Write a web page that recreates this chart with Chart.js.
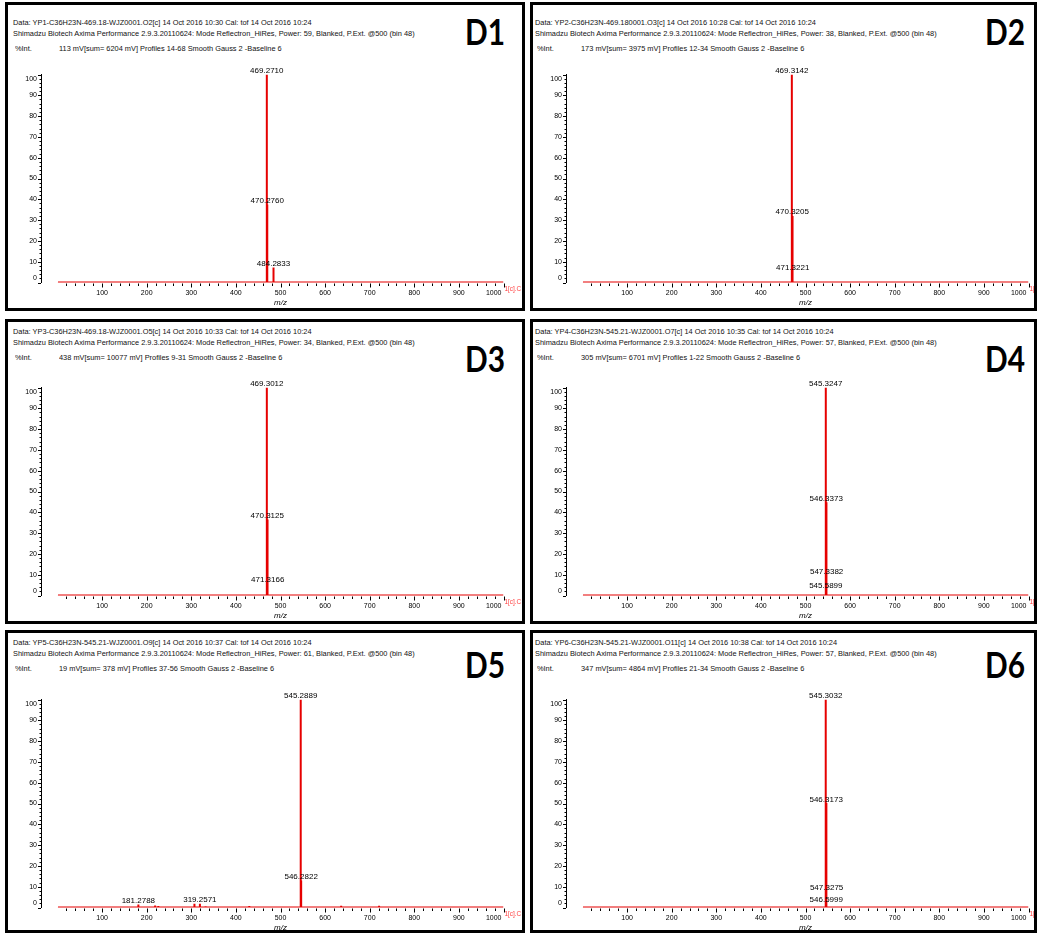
<!DOCTYPE html>
<html>
<head>
<meta charset="utf-8">
<title>MALDI-TOF spectra D1–D6</title>
<script src="https://cdn.jsdelivr.net/npm/chart.js@4.4.1/dist/chart.umd.min.js"></script>
<style>
  html, body { margin: 0; padding: 0; background: #fff; }
  body { position: relative; width: 1039px; height: 936px; overflow: hidden; }
  .panel { position: absolute; box-sizing: border-box; border: 3px solid #000; overflow: hidden; background: #fff; }
  .panel canvas { position: absolute; }
  .hdr { position: absolute; white-space: nowrap; font: 8px/10px "Liberation Sans", Arial, sans-serif; color: #111; transform-origin: 0 50%; }
  .tag { position: absolute; white-space: nowrap; font: 700 37px/37px Lato, "Open Sans", sans-serif; color: #000; transform-origin: 0 0; }
</style>
</head>
<body>
<script>
// ---------------- spectrum data ----------------
const panelTags = ['D1', 'D2', 'D3', 'D4', 'D5', 'D6'];

const dataLines = [
  'Data: YP1-C36H23N-469.18-WJZ0001.O2[c] 14 Oct 2016 10:30 Cal: tof 14 Oct 2016 10:24',
  'Data: YP2-C36H23N-469.180001.O3[c] 14 Oct 2016 10:28 Cal: tof 14 Oct 2016 10:24',
  'Data: YP3-C36H23N-469.18-WJZ0001.O5[c] 14 Oct 2016 10:33 Cal: tof 14 Oct 2016 10:24',
  'Data: YP4-C36H23N-545.21-WJZ0001.O7[c] 14 Oct 2016 10:35 Cal: tof 14 Oct 2016 10:24',
  'Data: YP5-C36H23N-545.21-WJZ0001.O9[c] 14 Oct 2016 10:37 Cal: tof 14 Oct 2016 10:24',
  'Data: YP6-C36H23N-545.21-WJZ0001.O11[c] 14 Oct 2016 10:38 Cal: tof 14 Oct 2016 10:24'
];
const laserPower = [59, 38, 34, 57, 61, 57];
const signalLines = [
  '113 mV[sum= 6204 mV]  Profiles 14-68 Smooth Gauss 2 -Baseline 6',
  '173 mV[sum= 3975 mV]  Profiles 12-34 Smooth Gauss 2 -Baseline 6',
  '438 mV[sum= 10077 mV]  Profiles 9-31 Smooth Gauss 2 -Baseline 6',
  '305 mV[sum= 6701 mV]  Profiles 1-22 Smooth Gauss 2 -Baseline 6',
  '19 mV[sum= 378 mV]  Profiles 37-56 Smooth Gauss 2 -Baseline 6',
  '347 mV[sum= 4864 mV]  Profiles 21-34 Smooth Gauss 2 -Baseline 6'
];

// labelled peaks: m/z and relative intensity (%)
const d1Mz  = [469.2710, 470.2760, 484.2833];
const d1Int = [100, 37.5, 7.2];
const d2Mz  = [469.3142, 470.3205, 471.3221];
const d2Int = [100, 32, 5.5];
const d3Mz  = [469.3012, 470.3125, 471.3166];
const d3Int = [100, 36.5, 6];
const d4Mz  = [545.3247, 546.3373, 547.3382, 545.5899];
const d4Int = [100, 44.8, 9.7, 3.1];
const d5Mz  = [545.2889, 546.2822, 181.2788, 319.2571];
const d5Int = [100, 13, 1.4, 1.8];
const d6Mz  = [545.3032, 546.3173, 547.3275, 546.5999];
const d6Int = [100, 50.2, 7.5, 1.7];

// unlabelled minor peaks
const d5MinorMz  = [218.8, 226.0, 307.0, 332.0, 430.0, 449.0, 636.0, 721.0, 795.0];
const d5MinorInt = [1.0, 0.7, 1.8, 0.6, 0.7, 0.5, 0.8, 0.8, 0.5];

// axes
const MZ_RANGE = [-37, 1000];
const INT_RANGE = [0, 100];
const ACQ_RANGE = [1, 1000];
const xMajorTicks = [100, 200, 300, 400, 500, 600, 700, 800, 900, 1000];
const yMajorTicks = [0, 10, 20, 30, 40, 50, 60, 70, 80, 90, 100];
const X_MINOR_STEP = 20;
const Y_MINOR_STEP = 2;
const PEAK_HALF_WIDTH = 0.1;

const peaks = [
  { mz: d1Mz, int: d1Int, minorMz: [], minorInt: [] },
  { mz: d2Mz, int: d2Int, minorMz: [], minorInt: [] },
  { mz: d3Mz, int: d3Int, minorMz: [], minorInt: [] },
  { mz: d4Mz, int: d4Int, minorMz: [], minorInt: [] },
  { mz: d5Mz, int: d5Int, minorMz: d5MinorMz, minorInt: d5MinorInt },
  { mz: d6Mz, int: d6Int, minorMz: [], minorInt: [] }
];

// ---------------- layout ----------------
const RED = '#e60000';
const TEXT_FONT = '"Liberation Sans", Arial, sans-serif';
const colLeft = [5, 530], colWidth = [520, 507];
const rowTop = [2, 319, 630], rowHeight = [309, 305, 303];
const chartRowOff = [0, 313, 625], chartColOff = [0, 525];
const textRowOff = [0, 309, 620], textColOff = [0, 522];
const tagRowOff = [0, 327, 633], tagColOff = [0, 520];

// stick profile: baseline, then each peak as a narrow spike
function profile(mz, inten) {
  const idx = mz.map((m, i) => i).sort((a, b) => mz[a] - mz[b]);
  const pts = [{ x: ACQ_RANGE[0], y: 0 }];
  idx.forEach(i => {
    pts.push({ x: mz[i] - PEAK_HALF_WIDTH, y: 0 }, { x: mz[i], y: inten[i] }, { x: mz[i] + PEAK_HALF_WIDTH, y: 0 });
  });
  pts.push({ x: ACQ_RANGE[1], y: 0 });
  return pts;
}

// axis ticks, tick labels and peak annotations
const spectrumDecor = {
  id: 'spectrumDecor',
  afterDatasetsDraw(chart, args, opts) {
    const { ctx, chartArea: a, scales: { x, y } } = chart;
    ctx.save();
    ctx.strokeStyle = '#000';
    ctx.lineWidth = 1;
    ctx.beginPath();
    for (let v = INT_RANGE[0]; v <= INT_RANGE[1]; v += Y_MINOR_STEP) {
      const py = Math.round(y.getPixelForValue(v)) + 0.5;
      const len = yMajorTicks.includes(v) ? 3 : 1.5;
      ctx.moveTo(a.left, py); ctx.lineTo(a.left - len, py);
    }
    for (let v = X_MINOR_STEP; v <= MZ_RANGE[1]; v += X_MINOR_STEP) {
      const px = Math.round(x.getPixelForValue(v)) + 0.5;
      const len = xMajorTicks.includes(v) ? 4 : 2.5;
      ctx.moveTo(px, a.bottom + 1); ctx.lineTo(px, a.bottom + 1 + len);
    }
    ctx.stroke();

    ctx.fillStyle = '#000';
    ctx.font = '7px ' + TEXT_FONT;
    ctx.textAlign = 'right';
    ctx.textBaseline = 'middle';
    yMajorTicks.forEach(v => {
      const py = Math.min(Math.max(y.getPixelForValue(v), a.top + 4.8), a.bottom - 4.2);
      ctx.fillText(String(v), a.left - 4, py);
    });
    ctx.textAlign = 'center';
    xMajorTicks.forEach(v => {
      const label = String(v);
      const w = ctx.measureText(label).width;
      const px = Math.min(x.getPixelForValue(v), a.right - 2 - w / 2);
      ctx.fillText(label, px, a.bottom + 10.5);
    });
    ctx.font = 'italic 8px ' + TEXT_FONT;
    ctx.fillText('m/z', x.getPixelForValue(500), a.bottom + 20);

    // trace identifier at the end of the m/z axis (condensed)
    ctx.save();
    ctx.translate(a.right + 1, a.bottom + 6);
    ctx.scale(0.8, 1);
    ctx.font = '8px ' + TEXT_FONT;
    ctx.textAlign = 'left';
    ctx.fillStyle = '#ff3c3c';
    ctx.fillText('1[c].C', 0, 0);
    ctx.restore();

    ctx.fillStyle = '#000';
    ctx.font = '8px ' + TEXT_FONT;
    ctx.textAlign = 'center';
    ctx.textBaseline = 'alphabetic';
    opts.mz.forEach((m, i) => {
      ctx.fillText(m.toFixed(4), x.getPixelForValue(m), y.getPixelForValue(opts.int[i]) - 1.5);
    });
    ctx.restore();
  }
};

// header text scale: condensed instrument font
const meas = document.createElement('canvas').getContext('2d');
meas.font = '8px ' + TEXT_FONT;
const instrumentLine = p => `Shimadzu Biotech Axima Performance 2.9.3.20110624: Mode Reflectron_HiRes, Power: ${p}, Blanked, P.Ext. @500 (bin 48)`;
const hdrScale = 402 / meas.measureText(instrumentLine(laserPower[0])).width;
meas.font = '700 37px Lato, "Open Sans", sans-serif';
const tagScale = 40 / meas.measureText('D1').width;

panelTags.forEach((tag, k) => {
  const r = Math.floor(k / 2), c = k % 2;
  const panel = document.createElement('div');
  panel.className = 'panel';
  Object.assign(panel.style, { left: colLeft[c] + 'px', top: rowTop[r] + 'px', width: colWidth[c] + 'px', height: rowHeight[r] + 'px' });
  document.body.appendChild(panel);
  const ox = colLeft[c] + 3, oy = rowTop[r] + 3;

  const addText = (cls, text, x, yTop, scale) => {
    const el = document.createElement('div');
    el.className = cls;
    el.textContent = text;
    el.style.left = (x - ox) + 'px';
    el.style.top = (yTop - oy) + 'px';
    el.style.transform = `scaleX(${scale})`;
    panel.appendChild(el);
  };
  const tx = textColOff[c], ty = textRowOff[r];
  addText('hdr', dataLines[k], 12.7 + tx, 18 + ty, hdrScale);
  addText('hdr', instrumentLine(laserPower[k]), 12.7 + tx, 29 + ty, hdrScale);
  addText('hdr', '%Int.', 15 + tx, 44 + ty, hdrScale);
  addText('hdr', signalLines[k], 59 + tx, 44 + ty, hdrScale);
  addText('tag', tag, 465 + tagColOff[c], 11.8 + tagRowOff[r], tagScale);

  const cv = document.createElement('canvas');
  cv.width = 514; cv.height = 268;
  cv.style.width = '514px'; cv.style.height = '268px';
  cv.style.left = (8 + chartColOff[c] - ox) + 'px';
  cv.style.top = (40 + chartRowOff[r] - oy) + 'px';
  panel.appendChild(cv);

  const p = peaks[k];
  const allMz = p.mz.concat(p.minorMz);
  const allInt = p.int.concat(p.minorInt);

  new Chart(cv, {
    type: 'scatter',
    data: {
      datasets: [{
        data: profile(allMz, allInt),
        showLine: true,
        borderColor: RED,
        backgroundColor: RED,
        borderWidth: 2,
        pointRadius: 0,
        tension: 0
      }]
    },
    options: {
      responsive: false,
      animation: false,
      devicePixelRatio: 1,
      layout: { padding: { left: 33, right: 18.5, top: 34.5, bottom: 25.5 } },
      plugins: {
        legend: { display: false },
        tooltip: { enabled: false },
        spectrumDecor: { mz: p.mz, int: p.int }
      },
      scales: {
        x: {
          type: 'linear', min: MZ_RANGE[0], max: MZ_RANGE[1],
          ticks: { display: false },
          grid: { display: false },
          border: { display: false },
          afterFit: s => { s.height = 0; }
        },
        y: {
          type: 'linear', min: INT_RANGE[0], max: INT_RANGE[1],
          ticks: { display: false },
          grid: { display: false },
          border: { display: true, color: '#000', width: 1 },
          afterFit: s => { s.width = 0; }
        }
      }
    },
    plugins: [spectrumDecor]
  });
});
</script>
</body>
</html>
